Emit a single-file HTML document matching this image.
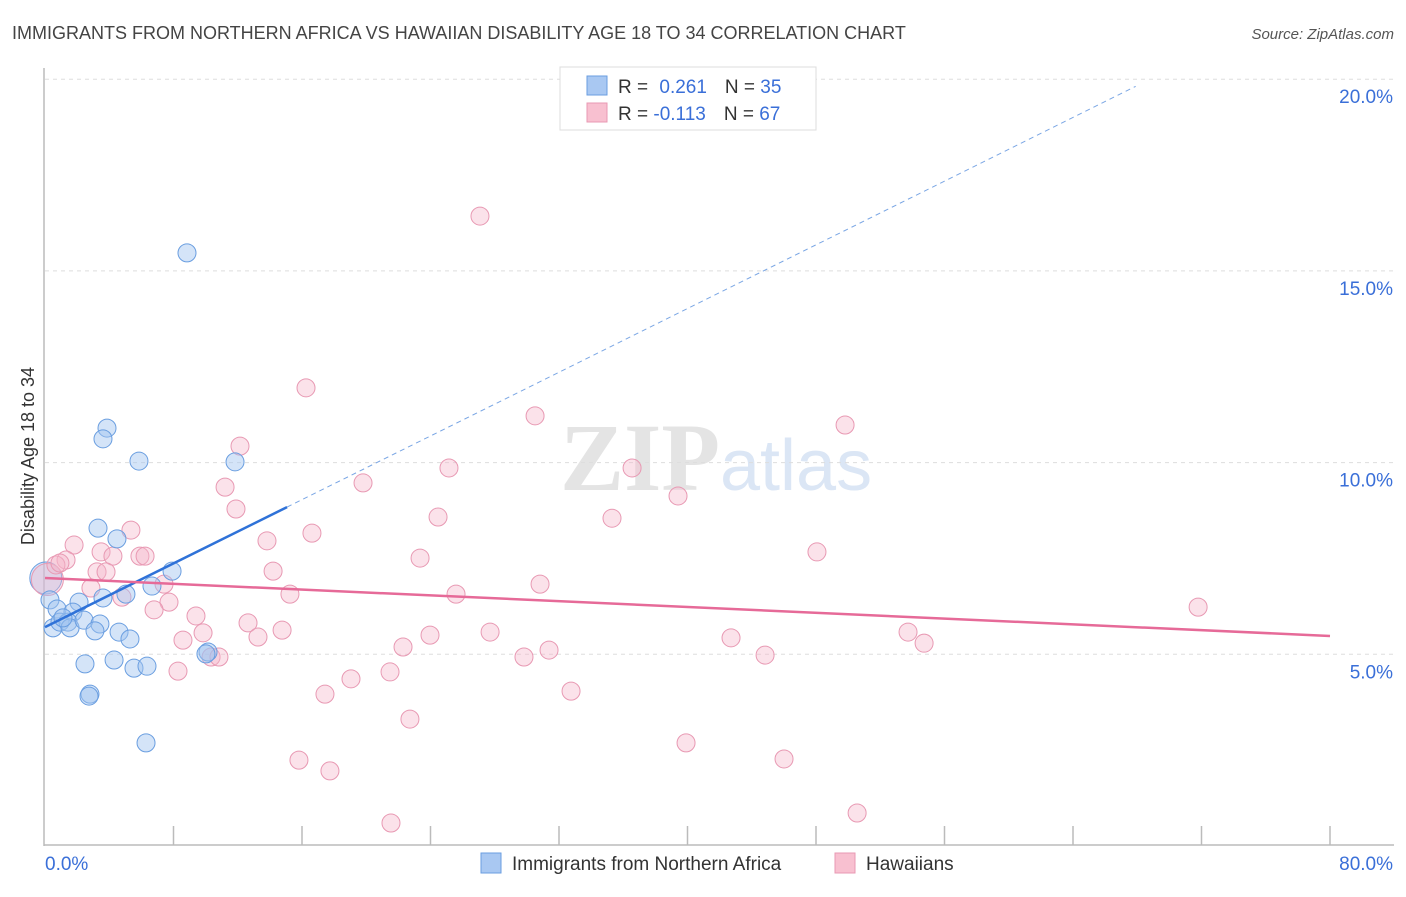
<!DOCTYPE html>
<html><head><meta charset="utf-8"><style>
body{margin:0;background:#fff;width:1406px;height:892px;overflow:hidden;font-family:"Liberation Sans",sans-serif}
</style></head><body>
<svg id="chart" width="1406" height="892" xmlns="http://www.w3.org/2000/svg">
<text x="12" y="39" font-size="18" fill="#444">IMMIGRANTS FROM NORTHERN AFRICA VS HAWAIIAN DISABILITY AGE 18 TO 34 CORRELATION CHART</text>
<text x="1394" y="39" font-size="15" fill="#555" font-style="italic" text-anchor="end">Source: ZipAtlas.com</text>
<text x="720" y="490" font-size="96" fill="#e4e4e4" font-family="Liberation Serif,serif" text-anchor="end" font-weight="bold">ZIP</text>
<text x="720" y="490" font-size="72" fill="#dbe6f5">atlas</text>
<g id="grid"></g><g id="axes"></g><g id="pts"></g><g id="trend"></g>
<text transform="translate(34,456) rotate(-90)" font-size="18" fill="#333" text-anchor="middle">Disability Age 18 to 34</text>
<g>
<rect x="560" y="67" width="256" height="63" fill="#fff" stroke="#ddd"/>
<rect x="587" y="76" width="20" height="19" fill="#a9c8f2" stroke="#6a9ee0"/>
<rect x="587" y="103" width="20" height="19" fill="#f8c0d0" stroke="#e899b3"/>
<text x="618" y="93" font-size="19" fill="#333">R = <tspan fill="#3a6fd8" dx="6">0.261</tspan><tspan dx="18" fill="#333">N = </tspan><tspan fill="#3a6fd8">35</tspan></text>
<text x="618" y="120" font-size="19" fill="#333">R = <tspan fill="#3a6fd8">-0.113</tspan><tspan dx="18" fill="#333">N = </tspan><tspan fill="#3a6fd8">67</tspan></text>
</g>
<g>
<rect x="481" y="853" width="20" height="20" fill="#a9c8f2" stroke="#6a9ee0"/>
<text x="512" y="870" font-size="19" fill="#333">Immigrants from Northern Africa</text>
<rect x="835" y="853" width="20" height="20" fill="#f8c0d0" stroke="#e899b3"/>
<text x="866" y="870" font-size="19" fill="#333">Hawaiians</text>
</g>
</svg>
<script>
const blueX=[8.84,3.86,3.61,5.85,11.83,3.30,4.48,7.91,6.66,5.04,0.31,3.61,2.12,0.75,1.74,0.50,0.93,1.43,1.56,2.43,3.42,3.11,4.61,5.29,10.15,10.02,2.49,4.30,5.54,6.35,2.80,2.74,6.29,1.12];
const blueY=[15.47,10.90,10.62,10.04,10.02,8.29,8.01,7.17,6.78,6.57,6.42,6.47,6.36,6.18,6.10,5.69,5.84,5.84,5.69,5.89,5.79,5.61,5.58,5.40,5.06,5.01,4.75,4.85,4.64,4.69,3.96,3.91,2.69,5.95];
const pinkX=[27.08,16.25,30.51,49.81,12.14,25.15,36.55,11.21,19.80,11.89,39.41,24.47,35.30,5.35,16.62,13.82,48.06,1.81,3.49,5.91,6.23,4.23,23.35,1.31,0.68,3.24,3.80,14.20,30.82,7.41,2.86,4.79,15.25,25.59,7.72,6.79,71.79,9.40,12.64,14.76,9.84,23.97,27.71,53.73,8.59,13.26,42.71,54.73,22.29,31.38,10.34,10.83,29.82,44.83,8.28,21.48,19.05,17.43,32.75,22.72,39.91,15.81,46.01,17.74,21.54,50.56,0.93];
const pinkY=[16.43,11.95,11.22,10.98,10.43,9.86,9.86,9.36,9.47,8.79,9.13,8.58,8.55,8.24,8.16,7.96,7.67,7.85,7.67,7.56,7.56,7.56,7.51,7.46,7.33,7.15,7.15,7.17,6.83,6.83,6.73,6.49,6.57,6.57,6.36,6.16,6.23,6.00,5.82,5.63,5.56,5.50,5.58,5.58,5.37,5.45,5.43,5.29,5.19,5.11,4.93,4.93,4.93,4.98,4.56,4.54,4.36,3.96,4.04,3.31,2.69,2.24,2.27,1.96,0.60,0.86,7.38];
const bigPoints=[{x:0.05,y:6.99,c:'blue'},{x:0.15,y:6.95,c:'pink'}];
const blueTrend=[5.71,0.2077]; // intercept, slope
const pinkTrend=[6.99,-0.0189];
const xTicks=["0.0%","80.0%"];
const yTicks=[5,10,15,20];
const NS="http://www.w3.org/2000/svg";
const sx=v=>45+v/80*1285, sy=v=>846-v/5*191.7;
function mk(p,t,a){const e=document.createElementNS(NS,t);for(const k in a)e.setAttribute(k,a[k]);p.appendChild(e);return e;}
const grid=document.getElementById('grid'),axes=document.getElementById('axes'),pts=document.getElementById('pts'),tr=document.getElementById('trend');
yTicks.forEach(v=>{
 const l=mk(grid,'line',{x1:45,x2:1394,y1:sy(v),y2:sy(v),stroke:'#ddd','stroke-dasharray':'4,4'});
 
 
 const t=mk(axes,'text',{x:1393,y:sy(v)+24,'font-size':19,fill:'#3a6fd8','text-anchor':'end'});
 t.textContent=v.toFixed(1)+'%';
 
 
});
mk(axes,'line',{x1:44,x2:44,y1:68,y2:846,stroke:'#bbb','stroke-width':1.5});
mk(axes,'line',{x1:44,x2:1394,y1:845,y2:845,stroke:'#bbb','stroke-width':1.5});
for(let i=1;i<=10;i++){const x=sx(i*8);mk(axes,'line',{x1:x,x2:x,y1:826,y2:845,stroke:'#bbb','stroke-width':1.5});}
const t0=mk(axes,'text',{x:45,y:870,'font-size':19,fill:'#3a6fd8'});t0.textContent=xTicks[0];


const t1=mk(axes,'text',{x:1393,y:870,'font-size':19,fill:'#3a6fd8','text-anchor':'end'});t1.textContent=xTicks[1];


const st={blue:{fill:'rgba(160,196,240,0.45)',stroke:'#6a9ee0'},pink:{fill:'rgba(246,182,202,0.4)',stroke:'#e899b3'}};
bigPoints.forEach(p=>{const c=mk(pts,'circle',{cx:sx(p.x),cy:sy(p.y),r:16,fill:st[p.c].fill,stroke:st[p.c].stroke});
 
 });
pinkX.forEach((x,i)=>{const c=mk(pts,'circle',{cx:sx(x),cy:sy(pinkY[i]),r:9,fill:st.pink.fill,stroke:st.pink.stroke});
 
 });
blueX.forEach((x,i)=>{const c=mk(pts,'circle',{cx:sx(x),cy:sy(blueY[i]),r:9,fill:st.blue.fill,stroke:st.blue.stroke});
 
 });
const bx1=15.07,bx2=67.9;
let l=mk(tr,'line',{x1:sx(0),y1:sy(blueTrend[0]),x2:sx(bx1),y2:sy(blueTrend[0]+blueTrend[1]*bx1),stroke:'#2f72d8','stroke-width':2.5});


l=mk(tr,'line',{x1:sx(bx1),y1:sy(blueTrend[0]+blueTrend[1]*bx1),x2:sx(bx2),y2:sy(blueTrend[0]+blueTrend[1]*bx2),stroke:'#7aa6e4','stroke-width':1,'stroke-dasharray':'5,4'});


l=mk(tr,'line',{x1:sx(0),y1:sy(pinkTrend[0]),x2:sx(80),y2:sy(pinkTrend[0]+pinkTrend[1]*80),stroke:'#e66a98','stroke-width':2.5});


</script>
</body></html>
